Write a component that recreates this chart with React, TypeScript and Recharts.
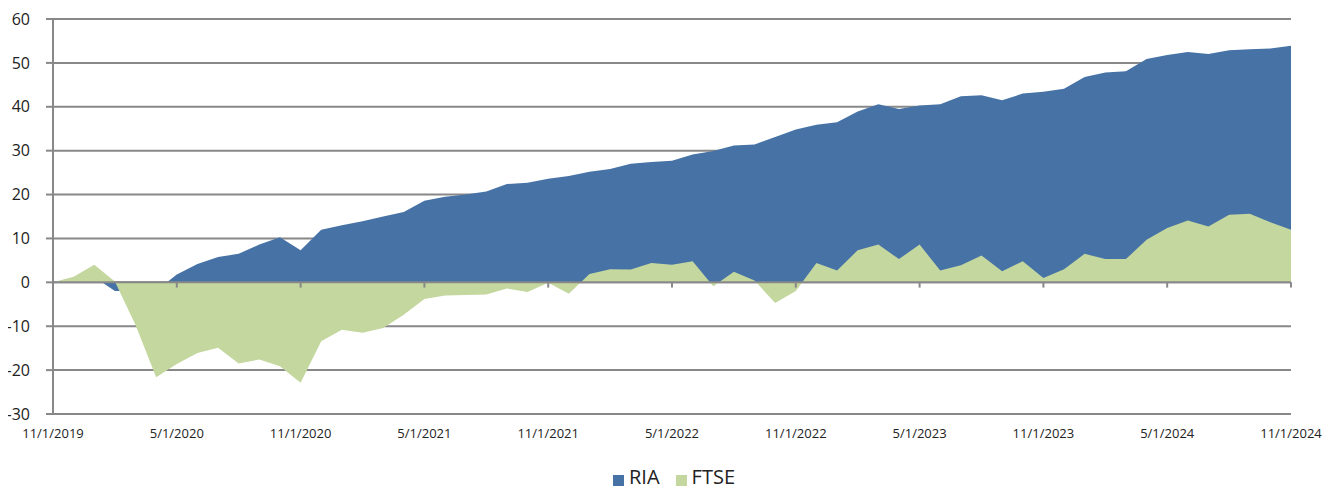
import { AreaChart, Area, XAxis, YAxis, CartesianGrid, ReferenceLine } from 'recharts';

const dates = [
  '11/1/2019', '12/1/2019', '1/1/2020', '2/1/2020', '3/1/2020', '4/1/2020',
  '5/1/2020', '6/1/2020', '7/1/2020', '8/1/2020', '9/1/2020', '10/1/2020',
  '11/1/2020', '12/1/2020', '1/1/2021', '2/1/2021', '3/1/2021', '4/1/2021',
  '5/1/2021', '6/1/2021', '7/1/2021', '8/1/2021', '9/1/2021', '10/1/2021',
  '11/1/2021', '12/1/2021', '1/1/2022', '2/1/2022', '3/1/2022', '4/1/2022',
  '5/1/2022', '6/1/2022', '7/1/2022', '8/1/2022', '9/1/2022', '10/1/2022',
  '11/1/2022', '12/1/2022', '1/1/2023', '2/1/2023', '3/1/2023', '4/1/2023',
  '5/1/2023', '6/1/2023', '7/1/2023', '8/1/2023', '9/1/2023', '10/1/2023',
  '11/1/2023', '12/1/2023', '1/1/2024', '2/1/2024', '3/1/2024', '4/1/2024',
  '5/1/2024', '6/1/2024', '7/1/2024', '8/1/2024', '9/1/2024', '10/1/2024',
  '11/1/2024',
];

const ria = [
  0, 0.8, 1.2, -2.0, -2.0, -1.9, 1.8, 4.2, 5.8, 6.5, 8.6, 10.3,
  7.3, 12.0, 13.0, 13.9, 15.0, 16.0, 18.6, 19.5, 20.0, 20.7, 22.4, 22.7,
  23.6, 24.2, 25.2, 25.8, 27.0, 27.4, 27.7, 29.1, 29.9, 31.2, 31.4, 33.1,
  34.8, 35.9, 36.5, 38.9, 40.6, 39.5, 40.3, 40.6, 42.4, 42.6, 41.5, 43.0,
  43.4, 44.1, 46.8, 47.8, 48.1, 50.9, 51.8, 52.5, 52.0, 52.9, 53.1, 53.3,
  53.9,
];

const ftse = [
  0, 1.3, 4.0, 0.2, -9.7, -21.6, -18.6, -16.1, -14.9, -18.5, -17.6, -19.1,
  -22.9, -13.4, -10.8, -11.5, -10.4, -7.4, -3.8, -3.0, -2.9, -2.8, -1.4, -2.2,
  -0.1, -2.6, 1.9, 3.0, 2.9, 4.4, 4.0, 4.8, -0.9, 2.4, 0.4, -4.7,
  -2.0, 4.4, 2.7, 7.3, 8.6, 5.3, 8.6, 2.7, 3.9, 6.1, 2.5, 4.8,
  1.0, 3.0, 6.5, 5.3, 5.3, 9.7, 12.4, 14.1, 12.7, 15.4, 15.6, 13.7,
  12.0,
];

const xTicks = [
  '11/1/2019', '5/1/2020', '11/1/2020', '5/1/2021', '11/1/2021', '5/1/2022',
  '11/1/2022', '5/1/2023', '11/1/2023', '5/1/2024', '11/1/2024',
];
const yTicks = [-30, -20, -10, 0, 10, 20, 30, 40, 50, 60];

const RIA_COLOR = '#4672A6';
const FTSE_COLOR = '#C4D79F';
const AXIS_GRAY = '#888888';
const FONT = '"Open Sans", sans-serif';

const data = dates.map((date, i) => ({ date, RIA: ria[i], FTSE: ftse[i] }));

export default function App() {
  return (
    <div
      style={{
        width: 1322,
        height: 489,
        paddingTop: 8,
        paddingLeft: 8,
        boxSizing: 'border-box',
        overflow: 'hidden',
        fontFamily: FONT,
      }}
    >
      {/* drop the default body margin so the wrapper fills the window */}
      <style>{'body { margin: 0; }'}</style>
      <AreaChart
        width={1314}
        height={436}
        data={data}
        margin={{ top: 11, right: 31, left: 0, bottom: 0 }}
        style={{ fontFamily: FONT }}
      >
        <CartesianGrid vertical={false} stroke={AXIS_GRAY} strokeWidth={2} />
        <XAxis
          dataKey="date"
          type="category"
          scale="point"
          ticks={xTicks}
          interval={0}
          height={30}
          axisLine={false}
          tickLine={false}
          tickSize={0}
          tickMargin={15}
          tick={{ fontSize: 13, fill: '#222' }}
        />
        <YAxis
          domain={[-30, 60]}
          ticks={yTicks}
          interval={0}
          width={45}
          axisLine={{ stroke: AXIS_GRAY, strokeWidth: 2 }}
          tickLine={{ stroke: AXIS_GRAY, strokeWidth: 2 }}
          tickSize={7}
          tickMargin={16}
          tick={{ fontSize: 16, fill: '#222' }}
        />
        <Area
          type="linear"
          dataKey="RIA"
          baseValue={0}
          stroke="none"
          fill={RIA_COLOR}
          fillOpacity={1}
          isAnimationActive={false}
        />
        <Area
          type="linear"
          dataKey="FTSE"
          baseValue={0}
          stroke="none"
          fill={FTSE_COLOR}
          fillOpacity={1}
          isAnimationActive={false}
        />
        <ReferenceLine y={0} stroke={AXIS_GRAY} strokeWidth={2} />
        {xTicks.slice(1).map((t) => (
          <ReferenceLine
            key={t}
            segment={[{ x: t, y: 0 }, { x: t, y: -1.2 }]}
            stroke={AXIS_GRAY}
            strokeWidth={2}
          />
        ))}
      </AreaChart>

      {/* legend */}
      <div
        style={{
          display: 'flex',
          justifyContent: 'center',
          alignItems: 'flex-start',
          marginTop: 24,
          paddingLeft: 18,
          fontSize: 20,
          lineHeight: '18px',
          color: '#222',
        }}
      >
        {[
          { name: 'RIA', color: RIA_COLOR },
          { name: 'FTSE', color: FTSE_COLOR },
        ].map((item, i) => (
          <div key={item.name} style={{ display: 'flex', alignItems: 'flex-start', marginLeft: i ? 16 : 0 }}>
            <div style={{ width: 11, height: 11, marginTop: 7, marginRight: 5, backgroundColor: item.color }} />
            <span>{item.name}</span>
          </div>
        ))}
      </div>
    </div>
  );
}
